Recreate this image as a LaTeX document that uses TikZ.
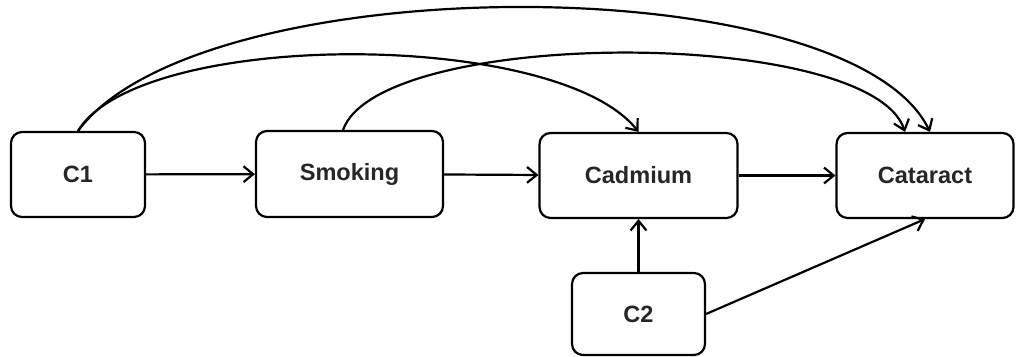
\documentclass[tikz,border=0pt]{standalone}
\usepackage{fontspec}
\setmainfont{Liberation Sans}
\usetikzlibrary{arrows.meta}
\begin{document}
\begin{tikzpicture}[x=0.02cm,y=-0.02cm,
  box/.style={draw=black, line width=1.25pt, rounded corners=0.22cm, fill=white,
    font=\fontsize{13.4}{16}\selectfont\bfseries, text=black!85, inner sep=0pt},
  conn/.style={draw=black, line width=1.25pt, -{Straight Barb[length=5.5pt,width=9pt,line width=1.25pt]}}]
\useasboundingbox (0,0) rectangle (1016,357);
\node[box, minimum width=2.68cm, minimum height=1.70cm] (C1) at (78,174.5) {C1};
\node[box, minimum width=3.74cm, minimum height=1.72cm] (S) at (349.5,174) {Smoking};
\node[box, minimum width=3.96cm, minimum height=1.70cm] (Cd) at (638.5,175.5) {Cadmium};
\node[box, minimum width=3.54cm, minimum height=1.70cm] (Ca) at (925,175.5) {Cataract};
\node[box, minimum width=2.66cm, minimum height=1.64cm] (C2) at (638.5,314) {C2};
\coordinate (SN) at ([xshift=-0.13cm]S.north);
\coordinate (CaA) at ([xshift=-0.40cm]Ca.north);
\coordinate (CaB) at ([xshift=0.10cm]Ca.north);
\draw[conn] (C1) -- (S);
\draw[conn] (S) -- (Cd);
\draw[conn] (Cd) -- (Ca);
\draw[conn] (C2) -- (Cd);
\draw[conn] (C2.east) -- (Ca.south);
\draw[conn] (C1.north) .. controls +(122,-165) and +(-80,-166) .. (CaB);
\draw[conn] (C1.north) .. controls +(62,-102) and +(-81,-103) .. (Cd.north);
\draw[conn] (SN) .. controls +(37,-103) and +(-35,-105) .. (CaA);
\end{tikzpicture}
\end{document}
